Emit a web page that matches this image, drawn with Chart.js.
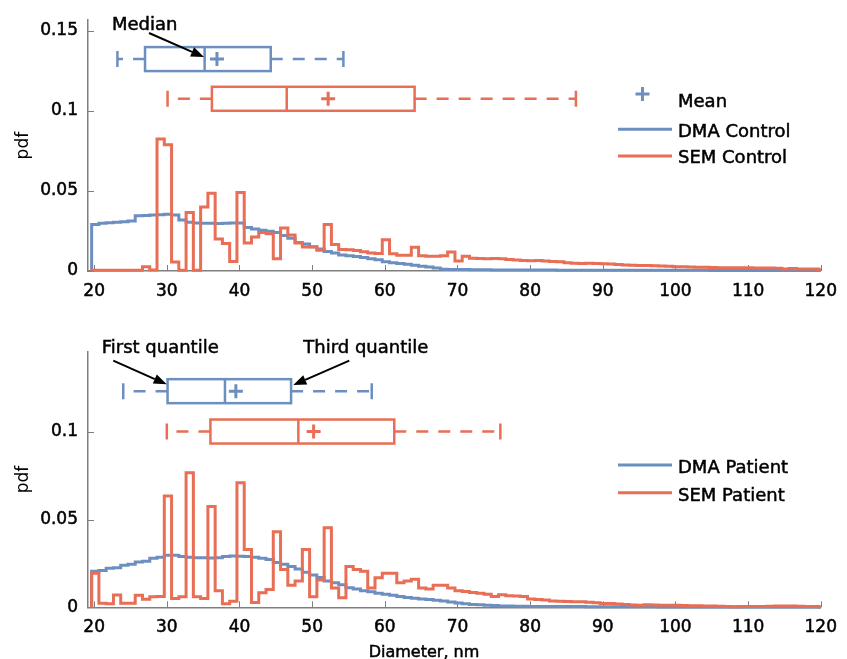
<!DOCTYPE html>
<html>
<head>
<meta charset="utf-8">
<script src="https://cdn.jsdelivr.net/npm/chart.js@4.4.1/dist/chart.umd.min.js"></script>
<style>
  html, body { margin: 0; padding: 0; background: #fff; }
  #wrap { position: relative; width: 847px; height: 659px; }
  canvas { position: absolute; left: 0; }
</style>
</head>
<body>
<div id="wrap">
  <canvas id="controlChart" width="847" height="300" style="top:0"></canvas>
  <canvas id="patientChart" width="847" height="339" style="top:320px"></canvas>
</div>
<script>
const blue = '#6d8fbf';
const orange = '#e86e55';
const axisGray = '#7f7f7f';

// Histogram bins are 1 nm wide, first left edge at 19.65 nm
const binStart = 19.65;
const binWidth = 1;

const xTicks = [20, 30, 40, 50, 60, 70, 80, 90, 100, 110, 120];
const controlYTicks = [0, 0.05, 0.1, 0.15];
const patientYTicks = [0, 0.05, 0.1];

const dmaControl = [
  0.0290, 0.0298, 0.0302, 0.0305, 0.0308, 0.0312, 0.0345, 0.0347, 0.0350, 0.0352,
  0.0355, 0.0350, 0.0318, 0.0305, 0.0300, 0.0298, 0.0298, 0.0297, 0.0298, 0.0300,
  0.0300, 0.0272, 0.0262, 0.0255, 0.0248, 0.0240, 0.0222, 0.0205, 0.0178, 0.0168,
  0.0152, 0.0138, 0.0122, 0.0112, 0.0100, 0.0095, 0.0090, 0.0085, 0.0077, 0.0070,
  0.0058, 0.0052, 0.0047, 0.0042, 0.0036, 0.0030, 0.0025, 0.0018, 0.0011, 0.0010,
  0.0009, 0.0009, 0.0008, 0.0008, 0.0008, 0.0007, 0.0007, 0.0007, 0.0007, 0.0006,
  0.0006, 0.0006, 0.0006, 0.0006, 0.0005, 0.0005, 0.0005, 0.0005, 0.0005, 0.0005,
  0.0005, 0.0005, 0.0004, 0.0004, 0.0004, 0.0004, 0.0004, 0.0004, 0.0004, 0.0004,
  0.0004, 0.0004, 0.0004, 0.0004, 0.0004, 0.0003, 0.0003, 0.0003, 0.0003, 0.0003,
  0.0003, 0.0003, 0.0003, 0.0003, 0.0003, 0.0003, 0.0003, 0.0003, 0.0003, 0.0003,
  0.0003
];

const semControl = [
  0.0005, 0.0005, 0.0005, 0.0005, 0.0005, 0.0005, 0.0005, 0.0026, 0.0006, 0.0825,
  0.0789, 0.0057, 0.0005, 0.0366, 0.0005, 0.0400, 0.0486, 0.0200, 0.0172, 0.0060,
  0.0490, 0.0175, 0.0212, 0.0240, 0.0232, 0.0077, 0.0268, 0.0225, 0.0175, 0.0150,
  0.0150, 0.0130, 0.0290, 0.0165, 0.0135, 0.0132, 0.0128, 0.0120, 0.0112, 0.0110,
  0.0195, 0.0108, 0.0098, 0.0098, 0.0148, 0.0095, 0.0092, 0.0092, 0.0095, 0.0118,
  0.0062, 0.0092, 0.0080, 0.0078, 0.0076, 0.0078, 0.0076, 0.0072, 0.0068, 0.0066,
  0.0064, 0.0066, 0.0063, 0.0060, 0.0058, 0.0052, 0.0048, 0.0047, 0.0048, 0.0047,
  0.0045, 0.0044, 0.0040, 0.0037, 0.0036, 0.0035, 0.0034, 0.0033, 0.0031, 0.0029,
  0.0027, 0.0026, 0.0025, 0.0024, 0.0023, 0.0022, 0.0021, 0.0020, 0.0020, 0.0021,
  0.0020, 0.0019, 0.0019, 0.0018, 0.0017, 0.0012, 0.0016, 0.0013, 0.0012, 0.0013,
  0.0010
];

const dmaPatient = [
  0.0205, 0.0210, 0.0222, 0.0225, 0.0240, 0.0245, 0.0258, 0.0262, 0.0280, 0.0285,
  0.0296, 0.0296, 0.0290, 0.0286, 0.0283, 0.0282, 0.0281, 0.0283, 0.0290, 0.0292,
  0.0291, 0.0289, 0.0285, 0.0280, 0.0272, 0.0255, 0.0245, 0.0232, 0.0218, 0.0200,
  0.0184, 0.0170, 0.0150, 0.0140, 0.0128, 0.0112, 0.0105, 0.0095, 0.0088, 0.0080,
  0.0074, 0.0068, 0.0062, 0.0056, 0.0052, 0.0048, 0.0044, 0.0040, 0.0036, 0.0030,
  0.0025, 0.0020, 0.0016, 0.0014, 0.0012, 0.0010, 0.0008, 0.0007, 0.0006, 0.0006,
  0.0005, 0.0005, 0.0005, 0.0004, 0.0004, 0.0004, 0.0004, 0.0004, 0.0003, 0.0003,
  0.0003, 0.0003, 0.0003, 0.0003, 0.0003, 0.0003, 0.0003, 0.0003, 0.0002, 0.0002,
  0.0002, 0.0002, 0.0002, 0.0002, 0.0002, 0.0002, 0.0002, 0.0002, 0.0002, 0.0002,
  0.0002, 0.0002, 0.0002, 0.0002, 0.0002, 0.0002, 0.0002, 0.0002, 0.0002, 0.0002,
  0.0002
];

const semPatient = [
  0.0194, 0.0023, 0.0020, 0.0070, 0.0023, 0.0023, 0.0068, 0.0046, 0.0060, 0.0062,
  0.0635, 0.0050, 0.0060, 0.0767, 0.0060, 0.0050, 0.0574, 0.0095, 0.0020, 0.0035,
  0.0710, 0.0330, 0.0028, 0.0083, 0.0102, 0.0431, 0.0215, 0.0125, 0.0150, 0.0330,
  0.0060, 0.0156, 0.0453, 0.0110, 0.0055, 0.0232, 0.0215, 0.0205, 0.0110, 0.0168,
  0.0194, 0.0194, 0.0140, 0.0150, 0.0160, 0.0110, 0.0105, 0.0125, 0.0125, 0.0110,
  0.0095, 0.0090, 0.0085, 0.0080, 0.0075, 0.0062, 0.0072, 0.0066, 0.0064, 0.0062,
  0.0048, 0.0045, 0.0042, 0.0036, 0.0034, 0.0033, 0.0032, 0.0031, 0.0029, 0.0026,
  0.0022, 0.0021, 0.0019, 0.0016, 0.0013, 0.0012, 0.0014, 0.0013, 0.0012, 0.0011,
  0.0012, 0.0010, 0.0009, 0.0009, 0.0008, 0.0007, 0.0006, 0.0005, 0.0003, 0.0005,
  0.0004, 0.0004, 0.0005, 0.0006, 0.0008, 0.0007, 0.0007, 0.0006, 0.0005, 0.0004,
  0.0003
];

// box plot summaries, [DMA, SEM], diameters in nm
const controlLow = [23.2, 30.1];
const controlQ1 = [27.0, 36.2];
const controlMedian = [35.2, 46.5];
const controlMean = [36.9, 52.2];
const controlQ3 = [44.3, 64.1];
const controlHigh = [54.3, 86.3];
const controlRow = [0.1324, 0.1076];   // pdf level the boxes sit at

const patientLow = [24.0, 30.0];
const patientQ1 = [30.1, 36.0];
const patientMedian = [38.0, 48.1];
const patientMean = [39.5, 50.2];
const patientQ3 = [47.1, 61.3];
const patientHigh = [58.2, 75.9];
const patientRow = [0.1232, 0.1002];

Chart.defaults.font.family = "'DejaVu Sans', sans-serif";
Chart.defaults.color = '#000';

function histPoints(values) {
  const pts = [{x: binStart, y: 0}];
  values.forEach((v, i) => pts.push({x: binStart + i * binWidth, y: v}));
  pts.push({x: binStart + values.length * binWidth, y: values[values.length - 1]});
  return pts;
}

function drawArrow(ctx, x1, y1, x2, y2) {
  const ang = Math.atan2(y2 - y1, x2 - x1);
  const len = 13, half = 5;
  const bx = x2 - len * Math.cos(ang), by = y2 - len * Math.sin(ang);
  ctx.beginPath();
  ctx.moveTo(x1, y1);
  ctx.lineTo(bx, by);
  ctx.stroke();
  ctx.beginPath();
  ctx.moveTo(x2, y2);
  ctx.lineTo(bx + half * Math.sin(ang), by - half * Math.cos(ang));
  ctx.lineTo(bx - half * Math.sin(ang), by + half * Math.cos(ang));
  ctx.closePath();
  ctx.fill();
}

// text a touch heavier, like the original
function boldText(ctx, text, x, y) {
  ctx.save();
  ctx.lineWidth = 0.5;
  ctx.strokeStyle = '#000';
  ctx.fillText(text, x, y);
  ctx.strokeText(text, x, y);
  ctx.restore();
}

// inward tick marks, box plots, legend and notes
const decor = {
  id: 'decor',
  beforeDatasetsDraw(chart) {
    const {ctx, chartArea: a, scales: {x, y}} = chart;
    ctx.save();
    ctx.strokeStyle = axisGray;
    ctx.lineWidth = 1;
    ctx.beginPath();
    x.ticks.forEach(t => {
      const px = Math.round(x.getPixelForValue(t.value)) + 0.5;
      ctx.moveTo(px, a.bottom);
      ctx.lineTo(px, a.bottom - 6);
    });
    y.ticks.forEach(t => {
      const py = Math.round(y.getPixelForValue(t.value)) + 0.5;
      ctx.moveTo(a.left, py);
      ctx.lineTo(a.left + 6, py);
    });
    ctx.stroke();
    ctx.restore();
  },
  afterDatasetsDraw(chart, args, o) {
    const {ctx, scales: {x, y}} = chart;
    const b = o.box;
    b.row.forEach((rv, i) => {
      const yc = y.getPixelForValue(rv);
      const px = k => x.getPixelForValue(b[k][i]);
      ctx.save();
      ctx.strokeStyle = o.colors[i];
      ctx.lineWidth = 2.5;
      ctx.strokeRect(px('q1'), yc - 12, px('q3') - px('q1'), 24);
      ctx.beginPath();
      ctx.moveTo(px('median'), yc - 12); ctx.lineTo(px('median'), yc + 12);
      ctx.moveTo(px('low'), yc - 8); ctx.lineTo(px('low'), yc + 8);
      ctx.moveTo(px('high'), yc - 8); ctx.lineTo(px('high'), yc + 8);
      ctx.stroke();
      ctx.setLineDash([12, 10]);
      ctx.beginPath(); ctx.moveTo(px('q1'), yc); ctx.lineTo(px('low'), yc); ctx.stroke();
      ctx.beginPath(); ctx.moveTo(px('q3'), yc); ctx.lineTo(px('high'), yc); ctx.stroke();
      ctx.restore();
    });
  },
  afterDraw(chart, args, o) {
    const ctx = chart.ctx;
    ctx.save();
    ctx.textBaseline = 'alphabetic';
    ctx.textAlign = 'left';
    ctx.font = "18px 'DejaVu Sans'";
    ctx.fillStyle = '#000';

    // legend
    o.legend.forEach(item => {
      const ds = chart.data.datasets[item.dataset];
      ctx.strokeStyle = item.color;
      ctx.lineWidth = 3;
      ctx.beginPath();
      if (item.cross) {
        ctx.moveTo(item.cx - 7, item.sy); ctx.lineTo(item.cx + 7, item.sy);
        ctx.moveTo(item.cx, item.sy - 7); ctx.lineTo(item.cx, item.sy + 7);
      } else {
        ctx.moveTo(618, item.sy); ctx.lineTo(672, item.sy);
      }
      ctx.stroke();
      boldText(ctx, ds.label, 678, item.ty);
    });

    // notes with arrows
    o.notes.forEach(n => {
      boldText(ctx, n.text, n.tx, n.ty);
      ctx.strokeStyle = '#000';
      ctx.lineWidth = 2;
      drawArrow(ctx, n.from[0], n.from[1], n.to[0], n.to[1]);
    });

    if (o.xTitle) {
      ctx.font = "16px 'DejaVu Sans'";
      ctx.textAlign = 'center';
      boldText(ctx, o.xTitle.text, o.xTitle.x, o.xTitle.y);
    }
    ctx.restore();
  }
};

function makeChart(canvasId, s) {
  return new Chart(document.getElementById(canvasId), {
    type: 'line',
    data: {
      datasets: [
        {
          label: s.names[1], data: histPoints(s.sem), borderColor: orange,
          borderWidth: 3, pointRadius: 0, stepped: 'before', fill: false, order: 1,
          clip: {left: 0, right: 0, top: 5, bottom: 5}
        },
        {
          label: s.names[0], data: histPoints(s.dma), borderColor: blue,
          borderWidth: 3, pointRadius: 0, stepped: 'before', fill: false, order: 2,
          clip: {left: 0, right: 0, top: 5, bottom: 5}
        },
        {
          type: 'scatter', label: 'Mean',
          data: s.box.mean.map((m, i) => ({x: m, y: s.box.row[i]})),
          pointStyle: 'cross', pointRadius: 7, pointBorderWidth: 3,
          pointBorderColor: [blue, orange], borderColor: blue, showLine: false, order: 0
        }
      ]
    },
    options: {
      responsive: false,
      animation: false,
      events: [],
      layout: {padding: {top: s.padTop, right: 18, left: 0, bottom: 0}},
      scales: {
        x: {
          type: 'linear', min: 19.15, max: 120,
          afterFit: sc => { sc.height = s.xAxisHeight; },
          afterBuildTicks: sc => { sc.ticks = xTicks.map(v => ({value: v})); },
          grid: {display: false, drawTicks: false},
          border: {display: true, color: axisGray, width: 1.5},
          ticks: {padding: 10, autoSkip: false, maxRotation: 0, font: {size: 17},
                  textStrokeColor: '#000', textStrokeWidth: 0.5, callback: v => String(v)}
        },
        y: {
          min: 0, max: s.yMax,
          afterFit: sc => { sc.width = 88; },
          afterBuildTicks: sc => { sc.ticks = s.yTicks.map(v => ({value: v})); },
          grid: {display: false, drawTicks: false},
          border: {display: true, color: axisGray, width: 1.5},
          ticks: {padding: 10, font: {size: 17}, textStrokeColor: '#000', textStrokeWidth: 0.5,
                  callback: v => String(+v.toFixed(2))},
          title: {display: true, text: 'pdf', font: {size: 17}, padding: {top: 13, bottom: 0}}
        }
      },
      plugins: {
        legend: {display: false},
        tooltip: {enabled: false},
        decor: {
          colors: [blue, orange],
          box: s.box,
          legend: s.legend,
          notes: s.notes,
          xTitle: s.xTitle
        }
      }
    },
    plugins: [decor]
  });
}

makeChart('controlChart', {
  names: ['DMA Control', 'SEM Control'],
  dma: dmaControl, sem: semControl,
  yTicks: controlYTicks, yMax: 0.1567,
  padTop: 14, xAxisHeight: 29,
  box: {low: controlLow, q1: controlQ1, median: controlMedian, mean: controlMean,
        q3: controlQ3, high: controlHigh, row: controlRow},
  legend: [
    {dataset: 2, cross: true, color: blue, cx: 642.5, sy: 94, ty: 106.7},
    {dataset: 1, color: blue, sy: 129.3, ty: 136.7},
    {dataset: 0, color: orange, sy: 156, ty: 163.3}
  ],
  notes: [
    {text: 'Median', tx: 112, ty: 30, from: [149, 33], to: [204, 57]}
  ],
  xTitle: null
});

makeChart('patientChart', {
  names: ['DMA Patient', 'SEM Patient'],
  dma: dmaPatient, sem: semPatient,
  yTicks: patientYTicks, yMax: 0.1457,
  padTop: 31.7, xAxisHeight: 51.7,
  box: {low: patientLow, q1: patientQ1, median: patientMedian, mean: patientMean,
        q3: patientQ3, high: patientHigh, row: patientRow},
  legend: [
    {dataset: 1, color: blue, sy: 145, ty: 153},
    {dataset: 0, color: orange, sy: 172.7, ty: 180.7}
  ],
  notes: [
    {text: 'First quantile', tx: 101.7, ty: 33.3, from: [113.3, 40.7], to: [166.7, 64.3]},
    {text: 'Third quantile', tx: 303.3, ty: 33.3, from: [349.3, 40.7], to: [293.3, 65]}
  ],
  xTitle: {text: 'Diameter, nm', x: 424, y: 337}
});
</script>
</body>
</html>
